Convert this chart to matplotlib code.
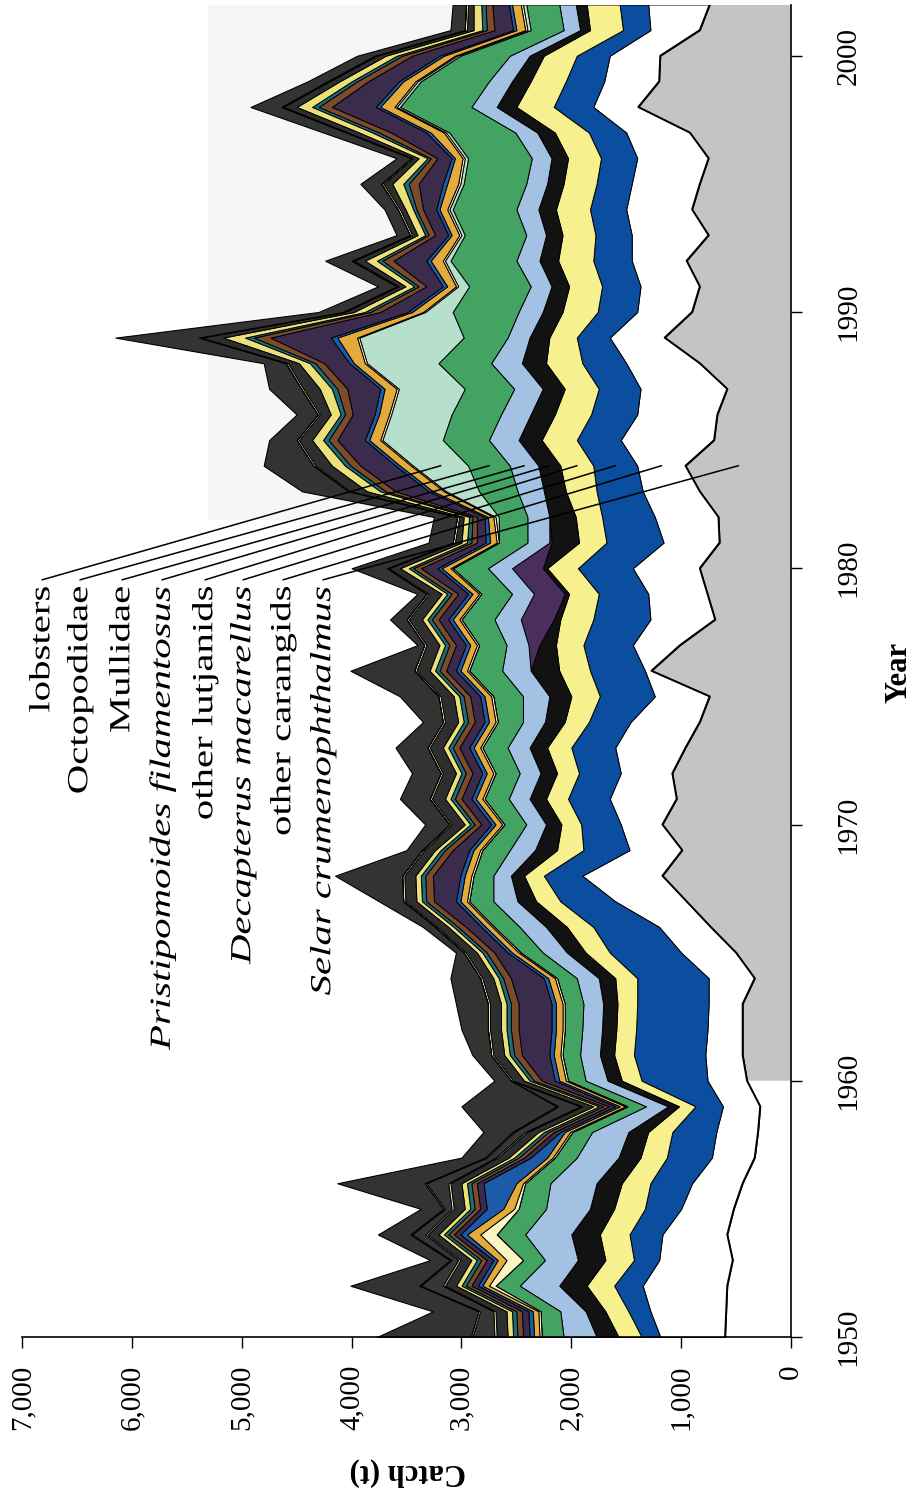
import numpy as np
import matplotlib
matplotlib.use("Agg")
import matplotlib.pyplot as plt
from matplotlib.patheffects import AbstractPathEffect
from matplotlib.transforms import Affine2D

plt.rcParams['font.family'] = ['Liberation Serif', 'DejaVu Serif']

years = np.arange(1950, 2003)

# catch (t) per layer, bottom to top, 1950-2002
base = [600, 590, 580, 530, 580, 520, 440, 330, 300, 280,
        400, 440, 440, 440, 330, 500, 730, 950, 1170, 990,
        1170, 1040, 1080, 960, 830, 740, 1270, 1010, 690, 760,
        830, 650, 660, 830, 960, 700, 670, 580, 830, 1150,
        900, 830, 950, 750, 900, 830, 750, 920, 1390, 1200,
        1190, 830, 740]
gap = [590, 690, 770, 670, 590, 480, 460, 390, 380, 340,
       360, 340, 320, 310, 420, 500, 470, 650, 730, 480,
       380, 610, 470, 640, 630, 500, 60, 430, 590, 540,
       610, 510, 580, 520, 440, 850, 730, 790, 670, 500,
       500, 540, 500, 700, 600, 620, 650, 580, 410, 500,
       460, 450, 560]
blue = [170, 200, 260, 230, 300, 330, 380, 410, 400, 250,
        600, 650, 650, 650, 650, 650, 600, 500, 350, 420,
        360, 380, 380, 400, 380, 500, 500, 450, 520, 450,
        500, 520, 480, 420, 400, 400, 420, 380, 400, 300,
        360, 350, 350, 330, 330, 320, 330, 340, 360, 350,
        300, 250, 260]
yellow = [210, 210, 250, 260, 270, 280, 260, 240, 220, 150,
          180, 180, 180, 180, 200, 220, 240, 220, 180, 240,
          180, 200, 200, 220, 220, 260, 280, 250, 300, 270,
          280, 250, 240, 280, 300, 320, 330, 310, 330, 250,
          320, 300, 320, 300, 310, 300, 300, 310, 340, 320,
          300, 300, 300]
black = [200, 180, 250, 250, 260, 220, 230, 200, 180, 100,
         130, 130, 130, 130, 150, 170, 190, 170, 120, 200,
         140, 150, 150, 160, 180, 200, 260, 150, 60, 40,
         40, 250, 240, 200, 200, 210, 220, 200, 220, 180,
         180, 160, 170, 150, 160, 150, 150, 160, 180, 170,
         130, 90, 100]
purple = [0, 0, 0, 0, 0, 0, 0, 0, 0, 0,
          0, 0, 0, 0, 0, 0, 0, 0, 0, 0,
          0, 0, 0, 0, 0, 0, 0, 100, 300, 280,
          280, 20, 0, 0, 0, 0, 0, 0, 0, 0,
          0, 0, 0, 0, 0, 0, 0, 0, 0, 0,
          0, 0, 0]
ltblue = [300, 230, 360, 300, 420, 400, 420, 380, 330, 200,
          200, 180, 180, 180, 200, 220, 240, 220, 160, 230,
          180, 190, 190, 200, 200, 240, 260, 200, 240, 200,
          220, 200, 200, 240, 260, 270, 270, 260, 280, 200,
          220, 190, 210, 180, 200, 190, 180, 200, 230, 210,
          180, 150, 150]
green = [200, 180, 220, 200, 260, 250, 230, 200, 180, 170,
         160, 160, 160, 170, 180, 200, 230, 220, 180, 250,
         200, 220, 220, 230, 230, 270, 300, 250, 300, 280,
         320, 260, 260, 350, 380, 420, 450, 450, 480, 400,
         600, 560, 600, 560, 580, 570, 580, 600, 650, 620,
         450, 300, 300]
mint = [0, 0, 0, 0, 0, 0, 0, 0, 0, 0,
        0, 0, 0, 0, 0, 0, 0, 0, 0, 0,
        0, 0, 0, 0, 0, 0, 0, 0, 0, 0,
        0, 0, 30, 300, 500, 550, 550, 600, 650, 950,
        250, 100, 50, 30, 30, 30, 30, 30, 30, 30,
        30, 30, 30]
cream = [20, 20, 60, 150, 150, 40, 20, 20, 20, 20] + [20] * 43
orange = [50, 50, 60, 80, 120, 100, 60, 50, 50, 50] + [60] * 10 + [60] * 10 + \
         [80, 60, 50, 100, 100, 100, 90, 110, 100, 180] + \
         [100, 80, 110, 70, 70, 100, 70, 120, 130, 110] + [100, 80, 80]
blue2 = [40, 40, 40, 40, 60, 150, 300, 150, 40, 40] + [40] * 20 + \
        [40, 40, 30, 40, 40, 40, 40, 40, 40, 60] + \
        [40, 40, 40, 30, 30, 40, 30, 40, 40, 40] + [40, 30, 30]
dkpurple = [60] * 10 + \
           [120, 250, 300, 300, 300, 120, 140, 200, 250, 150] + [90] * 10 + \
           [150, 80, 70, 300, 320, 250, 200, 300, 230, 550] + \
           [250, 150, 300, 120, 120, 220, 130, 320, 400, 280] + [250, 170, 150]
brown = [50] * 10 + [70] * 10 + [60] * 10 + \
        [70, 50, 40, 90, 90, 80, 70, 90, 80, 150] + \
        [90, 70, 100, 60, 60, 90, 60, 110, 120, 100] + [90, 70, 60]
teal = [40] * 30 + [40, 40, 30, 50, 50, 50, 40, 50, 50, 80] + \
       [50, 40, 50, 30, 30, 50, 30, 60, 60, 50] + [50, 40, 40]
yellow2 = [50] * 30 + [80, 50, 50, 120, 120, 100, 90, 110, 100, 200] + \
          [100, 80, 110, 70, 70, 100, 80, 120, 140, 110] + [100, 80, 70]
dark1 = [100] * 20 + [120] * 10 + \
        [100, 60, 40, 150, 150, 120, 100, 150, 100, 200] + \
        [80, 60, 100, 50, 50, 80, 50, 100, 120, 90] + [80, 60, 50]
pale = [20] * 53
dark2 = [200, 120, 200, 60, 120, 60, 200, 80, 100, 200] + [0] * 43
pale2 = [15] * 10 + [0] * 43
total = [3770, 3260, 4010, 3285, 3760, 3370, 4130, 3000, 2800, 3000,
         2700, 2900, 3000, 3050, 3100, 3050, 3350, 3750, 4150, 3500,
         3330, 3560, 3450, 3600, 3350, 3560, 4010, 3400, 3650, 3400,
         4000, 3300, 3250, 4450, 4800, 4750, 4500, 4750, 4800, 6150,
         4300, 3760, 4240, 3590, 3700, 3920, 3590, 4255, 4920, 4400,
         3950, 3100, 3080]

layers = [
    (gap, "white"), (blue, "#0b4d9e"), (yellow, "#f6f08e"), (black, "#121212"),
    (purple, "#4a2e5e"), (ltblue, "#a3c1e3"), (green, "#43a363"), (mint, "#b6e0cb"),
    (cream, "#fbf5c6"), (orange, "#e4aa3c"), (blue2, "#1d5aa8"), (dkpurple, "#3b2b4d"),
    (brown, "#7c4b2b"), (teal, "#1e6c79"), (yellow2, "#ebe07a"), (dark1, "#2e2e2e"),
    (pale, "#e8e6b0"), (dark2, "#363636"), (pale2, "#d9e8b0"),
]

labels = ["lobsters", "Octopodidae", "Mullidae", "Pristipomoides filamentosus",
          "other lutjanids", "Decapterus macarellus", "other carangids",
          "Selar crumenophthalmus"]
italic = [False, False, False, True, False, True, False, True]
label_x = [6815, 6470, 6087, 5723, 5332, 4986, 4622, 4258]
# layer index each label points at (0 = base)
label_layer = [8, 7, 6, 4, 3, 2, 1, 0]


class Stretch(AbstractPathEffect):
    # stretch glyphs along the reading direction, keeping the end fixed
    def __init__(self, sx):
        super().__init__()
        self.sx = sx

    def draw_path(self, renderer, gc, tpath, affine, rgbFace=None):
        x1 = tpath.get_extents().x1
        st = Affine2D().translate(-x1, 0).scale(self.sx, 1).translate(x1, 0)
        renderer.draw_path(gc, tpath, st + affine, rgbFace)


fig = plt.figure(figsize=(9.14, 15), dpi=100)
ax = fig.add_axes([22/914, 1-1337/1500, (791-22)/914, (1337-4.5)/1500])

# faint scan tint
ax.axhspan(1981.9, 2002, xmin=0.242, xmax=1, color="#f6f6f6", zorder=0, lw=0)

base = np.array(base, dtype=float)
ax.fill_betweenx(years, 0, base, facecolor="white", edgecolor="none", zorder=2)
m = years >= 1960
ax.fill_betweenx(years[m], 0, base[m], facecolor="#c4c4c4", edgecolor="none", zorder=2)
ax.plot(base, years, color="black", lw=1.4, zorder=4)

lower = base.copy()
bounds = [(np.zeros_like(base), base)]
for vals, col in layers:
    upper = lower + np.array(vals, dtype=float)
    ax.fill_betweenx(years, lower, upper, facecolor=col, edgecolor="black",
                     lw=0.7, zorder=2)
    bounds.append((lower, upper))
    lower = upper
top = np.maximum(np.array(total, dtype=float), lower)
ax.fill_betweenx(years, lower, top, facecolor="#333333", edgecolor="black",
                 lw=0.8, zorder=2)

# labels with leader lines to 1984
i84 = list(years).index(1984)
for txt, it, lx, li in zip(labels, italic, label_x, label_layer):
    lo, hi = bounds[li]
    tx = (lo[i84] + hi[i84]) / 2
    ax.plot([lx, tx], [1979.55, 1984.0], color="black", lw=1.1, zorder=5)
    ax.text(lx, 1979.3, txt, rotation=90, rotation_mode="anchor",
            ha="right", va="center", fontsize=21,
            fontstyle="italic" if it else "normal",
            path_effects=[Stretch(1.4)], zorder=6)

ax.set_xlim(7000, 0)
ax.set_ylim(1950, 2002)
xt = list(range(0, 8000, 1000))
ax.set_xticks(xt)
ax.set_xticklabels([f"{v:,}" for v in xt])
ax.set_yticks(range(1950, 2010, 10))
ax.yaxis.tick_right()
ax.tick_params(axis="x", direction="out", length=8, width=1, pad=12,
               labelsize=21, labelrotation=90)
ax.tick_params(axis="y", direction="out", length=8, width=1, pad=24,
               labelsize=21, labelrotation=90)
for t in ax.get_yticklabels():
    t.set_va("center")
ax.spines["left"].set_visible(False)
ax.spines["top"].set_visible(False)
ax.spines["right"].set_linewidth(1.2)
ax.spines["bottom"].set_linewidth(1.2)
ax.set_facecolor("white")

fig.text(899/914, 1-672/1500, "Year", rotation=90, ha="center", va="center",
         fontsize=22, fontweight="bold")
fig.text(408/914, 1-1472/1500, "Catch (t)", rotation=180, ha="center",
         va="center", fontsize=22, fontweight="bold")

fig.savefig("out.png", dpi=100)
